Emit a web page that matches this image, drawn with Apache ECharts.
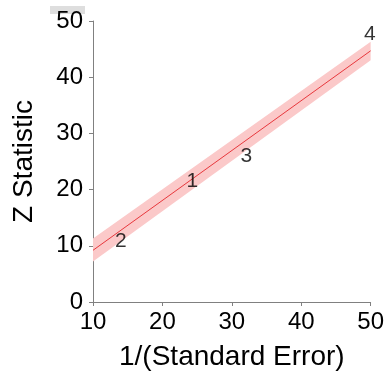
<!DOCTYPE html>
<html>
<head>
<meta charset="utf-8">
<script src="https://cdn.jsdelivr.net/npm/echarts@6/dist/echarts.min.js"></script>
<style>
html, body { margin: 0; padding: 0; background: #fff; }
#chart { width: 387px; height: 378px; }
</style>
</head>
<body>
<div id="chart"></div>
<script>
// 回归线两端
var lineX = [10, 50];
var lineY = [9.2, 44.7];
// 置信带
var bandLow = [7.2, 43.0];
var bandHigh = [11.3, 46.3];
// 研究编号及位置
var studyNames = ['1', '2', '3', '4'];
var studyX = [24.3, 14.0, 32.1, 49.9];
var studyY = [21.5, 10.9, 26.0, 47.6];

var fontName = 'Liberation Sans, Arial, sans-serif';

function initChart(id) {
    var myChart = echarts.init(document.getElementById(id));

    var lineData = [], bandData = [], pts = [];
    for (var i = 0; i < lineX.length; i++) {
        lineData.push([lineX[i], lineY[i]]);
        bandData.push([lineX[i], bandLow[i], bandHigh[i]]);
    }
    for (var j = 0; j < studyNames.length; j++) {
        pts.push({name: studyNames[j], value: [studyX[j], studyY[j]]});
    }

    var option = {
        animation: false,
        grid: {
            left: 93,
            right: 14,
            top: 21,
            bottom: 76,
            containLabel: false
        },
        xAxis: {
            type: 'value',
            min: 10,
            max: 50,
            interval: 10,
            name: '1/(Standard Error)',
            nameLocation: 'middle',
            nameGap: 41,
            nameTextStyle: {color: '#000', fontSize: 28, fontFamily: fontName},
            axisLine: {show: true, lineStyle: {color: '#808080', width: 1}},
            axisTick: {show: true, inside: false, length: 4, lineStyle: {color: '#808080'}},
            axisLabel: {color: '#000', fontSize: 24, fontFamily: fontName, margin: 8},
            splitLine: {show: false}
        },
        yAxis: {
            type: 'value',
            min: 0,
            max: 50,
            interval: 10,
            name: 'Z Statistic',
            nameLocation: 'middle',
            nameGap: 55,
            nameRotate: 90,
            nameTextStyle: {color: '#000', fontSize: 28, fontFamily: fontName},
            axisLine: {show: true, onZero: false, lineStyle: {color: '#808080', width: 1}},
            axisTick: {show: true, inside: false, length: 4, lineStyle: {color: '#808080'}},
            axisLabel: {color: '#000', fontSize: 24, fontFamily: fontName, margin: 10},
            splitLine: {show: false}
        },
        graphic: [{
            type: 'rect',
            shape: {x: 50, y: 6, width: 35, height: 8},
            style: {fill: '#dedede'},
            z: -1
        }],
        series: [
            {
                // 置信带多边形
                type: 'custom',
                data: bandData,
                silent: true,
                renderItem: function (params, api) {
                    if (params.dataIndex !== 0) return;
                    var top = [], bottom = [];
                    for (var k = 0; k < bandData.length; k++) {
                        top.push(api.coord([bandData[k][0], bandData[k][2]]));
                        bottom.unshift(api.coord([bandData[k][0], bandData[k][1]]));
                    }
                    return {
                        type: 'polygon',
                        shape: {points: top.concat(bottom)},
                        style: {fill: '#fbc9c9'}
                    };
                },
                z: 1
            },
            {
                type: 'line',
                data: lineData,
                symbol: 'none',
                lineStyle: {color: '#e8383d', width: 1},
                silent: true,
                z: 2
            },
            {
                type: 'scatter',
                data: pts,
                symbolSize: 1,
                itemStyle: {color: 'transparent'},
                label: {
                    show: true,
                    position: 'inside',
                    formatter: '{b}',
                    color: '#000',
                    fontSize: 21,
                    fontFamily: fontName
                },
                z: 5
            }
        ]
    };
    myChart.setOption(option);
}

initChart('chart');
</script>
</body>
</html>
